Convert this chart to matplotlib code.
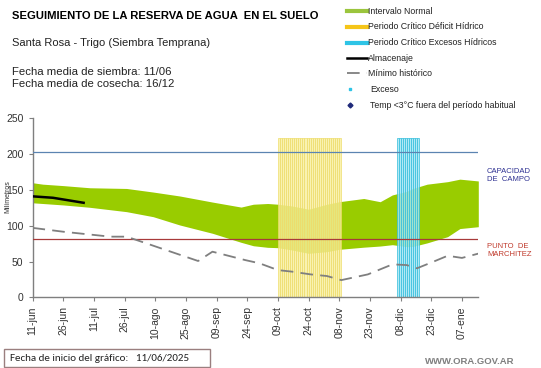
import numpy as np
import matplotlib.pyplot as plt
from matplotlib.lines import Line2D
from matplotlib.patches import Rectangle

plt.rcParams['font.family'] = ['Liberation Sans', 'DejaVu Sans']

# dias desde el 11-jun
tick_days = [0, 15, 30, 45, 60, 75, 90, 105, 120, 135, 150, 165, 180, 195, 210]
tick_labels = ['11-jun', '26-jun', '11-jul', '26-jul', '10-ago', '25-ago', '09-sep',
               '24-sep', '09-oct', '24-oct', '08-nov', '23-nov', '08-dic', '23-dic', '07-ene']

band_days = [0, 5, 15, 28, 46, 59, 72, 88, 102, 108, 115, 120, 127, 135, 144, 150,
             162, 170, 176, 183, 186, 193, 203, 209, 218]
band_upper = [160, 158, 156, 153, 152, 147, 141.5, 133, 126, 130, 131, 130, 127.5, 123,
              130, 133.5, 138, 133.5, 143, 148, 152, 158, 161.5, 165, 162.5]
band_lower = [132, 131, 129, 125.7, 119.6, 112.6, 101, 89.4, 76.8, 72, 69.8, 69.3, 66,
              61.4, 63.7, 67, 70, 71.6, 73.5, 70.7, 71, 76, 84.7, 96, 98.6]

min_days = [0, 15, 38, 46, 55, 81, 88, 104, 111, 120, 127, 136, 144, 151, 164, 176,
            183, 188, 196, 203, 210, 218]
min_hist = [97, 91.6, 84.7, 84.7, 76, 50.7, 63.7, 52, 47.5, 38, 35.8, 32, 29.7, 24, 32,
            46, 45, 40.5, 49.7, 58, 55, 61]

alm_days = [0, 10, 25]
almacenaje = [141, 139, 132]

deficit_days = list(range(120, 151))   # 09-oct a 08-nov
exceso_days = list(range(178, 189))    # 06-dic a 16-dic
periodo_alto = 222

cap_campo = 203
punto_marchitez = 81

W, H = 541, 368
fig = plt.figure(figsize=(W / 100, H / 100), dpi=100)


def fx(x):
    return x / W


def fy(y):
    return 1 - y / H


ax = fig.add_axes([fx(32.5), fy(297.3), fx(478.3) - fx(32.5), fy(118.3) - fy(297.3)])

ax.fill_between(band_days, band_lower, band_upper, color='#99cc00', lw=0, zorder=1)
ax.bar(deficit_days, [periodo_alto] * len(deficit_days), width=1.0, align='edge',
       color='#f8ef9e', edgecolor='#eedc6a', linewidth=0.6, alpha=0.8, zorder=2)
ax.bar(exceso_days, [periodo_alto] * len(exceso_days), width=1.0, align='edge',
       color='#a4e6f4', edgecolor='#36bedc', linewidth=0.6, alpha=0.85, zorder=2)
ax.axhline(cap_campo, color='#5b84b1', lw=0.9, zorder=3)
ax.axhline(punto_marchitez, color='#a83a3a', lw=0.9, zorder=3)
ax.plot(min_days, min_hist, color='#7f7f7f', lw=1.3, dashes=(7, 4), zorder=3)
ax.plot(alm_days, almacenaje, color='black', lw=1.8, zorder=4)

ax.set_xlim(0, 218)
ax.set_ylim(0, 250)
ax.set_yticks([0, 50, 100, 150, 200, 250])
ax.set_xticks(tick_days)
ax.set_xticklabels(tick_labels, rotation=90)
ax.tick_params(labelsize=7.5, colors='#333333', length=3, width=0.8)
ax.tick_params(axis='both', color='#808080')
for s in ['top', 'right']:
    ax.spines[s].set_visible(False)
for s in ['left', 'bottom']:
    ax.spines[s].set_color('#7f7f7f')
    ax.spines[s].set_linewidth(1.0)
ax.set_ylabel('Milímetros', fontsize=5, color='#333333')
ax.yaxis.set_label_coords(-0.047, 0.56)

# etiquetas a la derecha
fig.text(fx(487), fy(175), 'CAPACIDAD\nDE  CAMPO', fontsize=5.5, color='#2e3192',
         va='center', ha='left', linespacing=1.2)
fig.text(fx(487), fy(251), 'PUNTO  DE\nMARCHITEZ', fontsize=5.5, color='#c0392b',
         va='center', ha='left', linespacing=1.2)

# encabezado
fig.text(fx(12), fy(16), 'SEGUIMIENTO DE LA RESERVA DE AGUA  EN EL SUELO', fontsize=8.1,
         fontweight='bold', va='center', ha='left')
fig.text(fx(12), fy(43.5), 'Santa Rosa - Trigo (Siembra Temprana)', fontsize=8,
         color='#222222', va='center', ha='left')
fig.text(fx(12), fy(72), 'Fecha media de siembra: 11/06', fontsize=8.2,
         color='#222222', va='center', ha='left')
fig.text(fx(12), fy(84), 'Fecha media de cosecha: 16/12', fontsize=8.2,
         color='#222222', va='center', ha='left')

# leyenda
leg_labels = ['Intervalo Normal', 'Periodo Crítico Déficit Hídrico',
              'Periodo Crítico Excesos Hídricos', 'Almacenaje', 'Mínimo histórico',
              'Exceso', 'Temp <3°C fuera del período habitual']
leg_y = [11, 26.7, 42.7, 58.3, 73.3, 89.3, 105]
x0, x1 = fx(347), fx(367)
fig.add_artist(Line2D([x0, x1], [fy(leg_y[0])] * 2, color='#9bc53d', lw=3))
fig.add_artist(Line2D([x0, x1], [fy(leg_y[1])] * 2, color='#f5c518', lw=3))
fig.add_artist(Line2D([x0, x1], [fy(leg_y[2])] * 2, color='#2ec4e6', lw=3))
fig.add_artist(Line2D([x0, x1], [fy(leg_y[3])] * 2, color='black', lw=1.8))
fig.add_artist(Line2D([x0, x1], [fy(leg_y[4])] * 2, color='#7f7f7f', lw=1.3, dashes=(7, 4)))
fig.add_artist(Line2D([fx(350)], [fy(leg_y[5])], color='#2ec4e6', marker='s', ms=2, lw=0))
fig.add_artist(Line2D([fx(350)], [fy(leg_y[6])], color='#1f2a7a', marker='D', ms=2.5, lw=0))
for i, (lab, y) in enumerate(zip(leg_labels, leg_y)):
    xt = 368 if i < 5 else 370
    fig.text(fx(xt), fy(y), lab, fontsize=6.3, color='#222222', va='center', ha='left')

# pie
fig.add_artist(Rectangle((fx(3.5), fy(367)), fx(210) - fx(3.5), fy(349) - fy(367),
                         fill=False, edgecolor='#9a7f7f', lw=1.0))
fig.text(fx(10), fy(358.5), 'Fecha de inicio del gráfico:   11/06/2025', fontsize=7.9,
         family=['Carlito', 'Liberation Sans', 'DejaVu Sans'], color='#222222',
         va='center', ha='left')
fig.text(fx(514), fy(362), 'WWW.ORA.GOV.AR', fontsize=6.8, fontweight='bold',
         color='#7f7f7f', va='center', ha='right')

fig.savefig('out.png', dpi=100)
